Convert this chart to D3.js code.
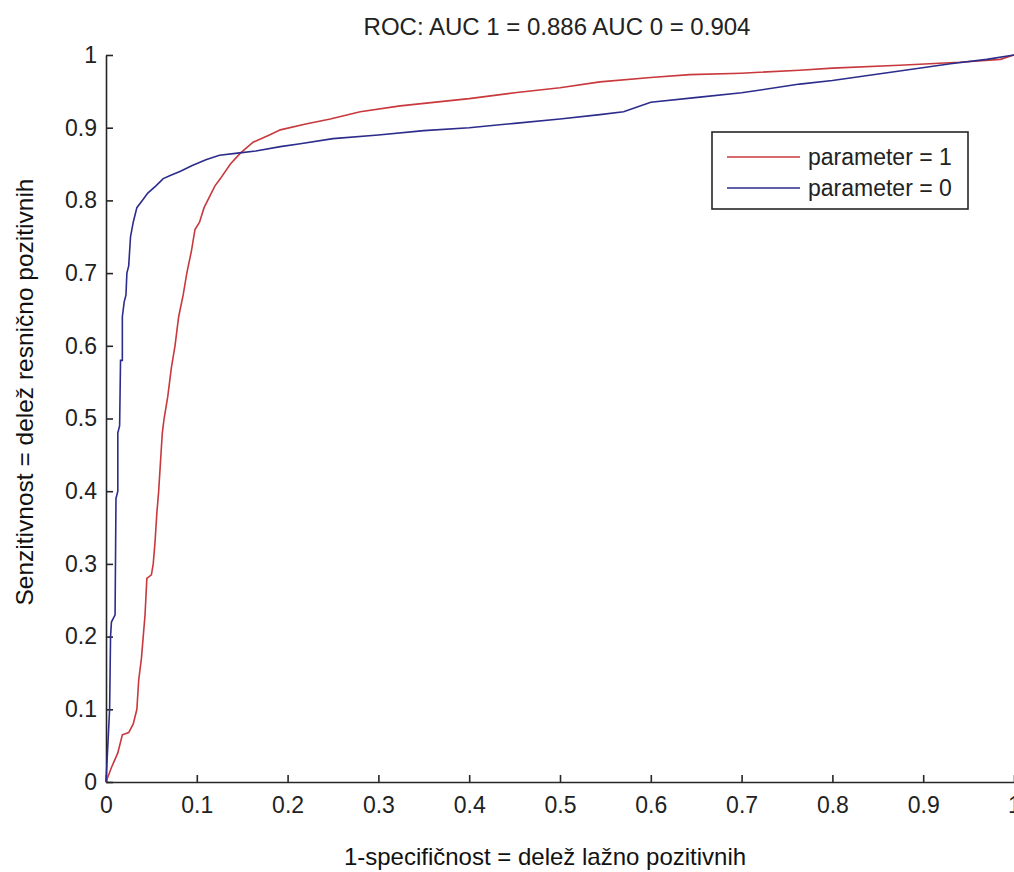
<!DOCTYPE html>
<html>
<head>
<meta charset="utf-8">
<script src="https://cdn.jsdelivr.net/npm/d3@7"></script>
<style>
  body { margin: 0; background: #fff; }
  text { font-family: "Liberation Sans", Arial, sans-serif; }
</style>
</head>
<body>
<div id="graph"></div>
<script>
// ROC tocke (fpr, tpr) odcitane s slike
const fpr0 = [0, 0.002, 0.004, 0.005, 0.006, 0.010, 0.011, 0.013, 0.013, 0.015, 0.016, 0.018, 0.018, 0.020, 0.022, 0.023, 0.025, 0.027, 0.030, 0.034, 0.040, 0.046, 0.055, 0.063, 0.072, 0.082, 0.095, 0.110, 0.125, 0.145, 0.165, 0.192, 0.214, 0.25, 0.30, 0.35, 0.40, 0.45, 0.50, 0.544, 0.57, 0.60, 0.654, 0.70, 0.764, 0.80, 0.874, 0.93, 0.97, 1];
const tpr0 = [0, 0.05, 0.10, 0.20, 0.22, 0.23, 0.39, 0.40, 0.48, 0.49, 0.58, 0.58, 0.64, 0.66, 0.67, 0.70, 0.71, 0.75, 0.77, 0.79, 0.80, 0.81, 0.82, 0.83, 0.835, 0.84, 0.848, 0.856, 0.862, 0.865, 0.868, 0.874, 0.878, 0.885, 0.89, 0.896, 0.90, 0.906, 0.912, 0.918, 0.922, 0.935, 0.942, 0.948, 0.96, 0.965, 0.978, 0.988, 0.994, 1];

const fpr1 = [0, 0.006, 0.013, 0.018, 0.025, 0.030, 0.034, 0.036, 0.039, 0.041, 0.043, 0.045, 0.050, 0.052, 0.054, 0.056, 0.058, 0.060, 0.062, 0.064, 0.068, 0.072, 0.076, 0.080, 0.085, 0.089, 0.094, 0.098, 0.103, 0.108, 0.112, 0.120, 0.126, 0.137, 0.148, 0.162, 0.18, 0.192, 0.22, 0.247, 0.28, 0.324, 0.40, 0.45, 0.50, 0.544, 0.60, 0.643, 0.70, 0.764, 0.80, 0.874, 0.94, 0.985, 1];
const tpr1 = [0, 0.02, 0.04, 0.065, 0.068, 0.08, 0.10, 0.14, 0.17, 0.20, 0.23, 0.28, 0.285, 0.30, 0.33, 0.37, 0.40, 0.44, 0.48, 0.50, 0.53, 0.57, 0.60, 0.64, 0.67, 0.70, 0.73, 0.76, 0.77, 0.79, 0.80, 0.82, 0.83, 0.85, 0.865, 0.88, 0.89, 0.897, 0.905, 0.912, 0.922, 0.93, 0.94, 0.948, 0.955, 0.963, 0.969, 0.973, 0.975, 0.979, 0.982, 0.986, 0.99, 0.994, 1];

const tickVals = [0, 0.1, 0.2, 0.3, 0.4, 0.5, 0.6, 0.7, 0.8, 0.9, 1];
const seriesNames = ["parameter = 1", "parameter = 0"];
const seriesColors = ["#c8383c", "#2c2c8c"];

const width = 1014, height = 872;

const svg = d3.select("#graph")
  .append("svg")
  .attr("width", width)
  .attr("height", height);

const x = d3.scaleLinear().domain([0, 1]).range([106, 1014]);
const y = d3.scaleLinear().domain([0, 1]).range([782, 55]);

const fmt = d => d === 0 ? "0" : d === 1 ? "1" : d3.format(".1f")(d);

const xAxis = svg.append("g")
  .attr("transform", `translate(0,${y(0)})`)
  .call(d3.axisBottom(x).tickValues(tickVals).tickFormat(fmt)
    .tickSizeInner(-7).tickSizeOuter(0).tickPadding(15));

const yAxis = svg.append("g")
  .attr("transform", `translate(${x(0)},0)`)
  .call(d3.axisLeft(y).tickValues(tickVals).tickFormat(fmt)
    .tickSizeInner(-7).tickSizeOuter(0).tickPadding(9));

[xAxis, yAxis].forEach(g => {
  g.selectAll("path, line").attr("stroke", "#262626").attr("stroke-width", 1.6);
  g.selectAll("text").attr("font-size", 23).attr("fill", "#222")
    .style("font-family", "'Liberation Sans', Arial, sans-serif");
});

const line = d3.line().x(d => x(d[0])).y(d => y(d[1]));

const red = fpr1.map((f, i) => [f, tpr1[i]]);
const blue = fpr0.map((f, i) => [f, tpr0[i]]);

svg.append("path").datum(red)
  .attr("d", line).attr("fill", "none")
  .attr("stroke", seriesColors[0]).attr("stroke-width", 1.6);

svg.append("path").datum(blue)
  .attr("d", line).attr("fill", "none")
  .attr("stroke", seriesColors[1]).attr("stroke-width", 1.6);

// naslov
svg.append("text")
  .attr("x", 557).attr("y", 35)
  .attr("text-anchor", "middle")
  .attr("font-size", 24).attr("fill", "#222")
  .text("ROC: AUC 1 = 0.886 AUC 0 = 0.904");

svg.append("text")
  .attr("x", 545).attr("y", 865)
  .attr("text-anchor", "middle")
  .attr("font-size", 24).attr("fill", "#111")
  .text("1-specifičnost = delež lažno pozitivnih");

svg.append("text")
  .attr("transform", "translate(33,392) rotate(-90)")
  .attr("text-anchor", "middle")
  .attr("font-size", 24.5).attr("fill", "#111")
  .text("Senzitivnost = delež resnično pozitivnih");

// legenda
const legend = svg.append("g");
legend.append("rect")
  .attr("x", 712).attr("y", 132)
  .attr("width", 256).attr("height", 77)
  .attr("fill", "#fff").attr("stroke", "#262626").attr("stroke-width", 1.6);

seriesNames.forEach((name, i) => {
  const ly = 157 + i * 31;
  legend.append("line")
    .attr("x1", 727).attr("x2", 800)
    .attr("y1", ly).attr("y2", ly)
    .attr("stroke", seriesColors[i]).attr("stroke-width", 1.6);
  legend.append("text")
    .attr("x", 808).attr("y", ly + 8)
    .attr("font-size", 23).attr("fill", "#222")
    .text(name);
});
</script>
</body>
</html>
